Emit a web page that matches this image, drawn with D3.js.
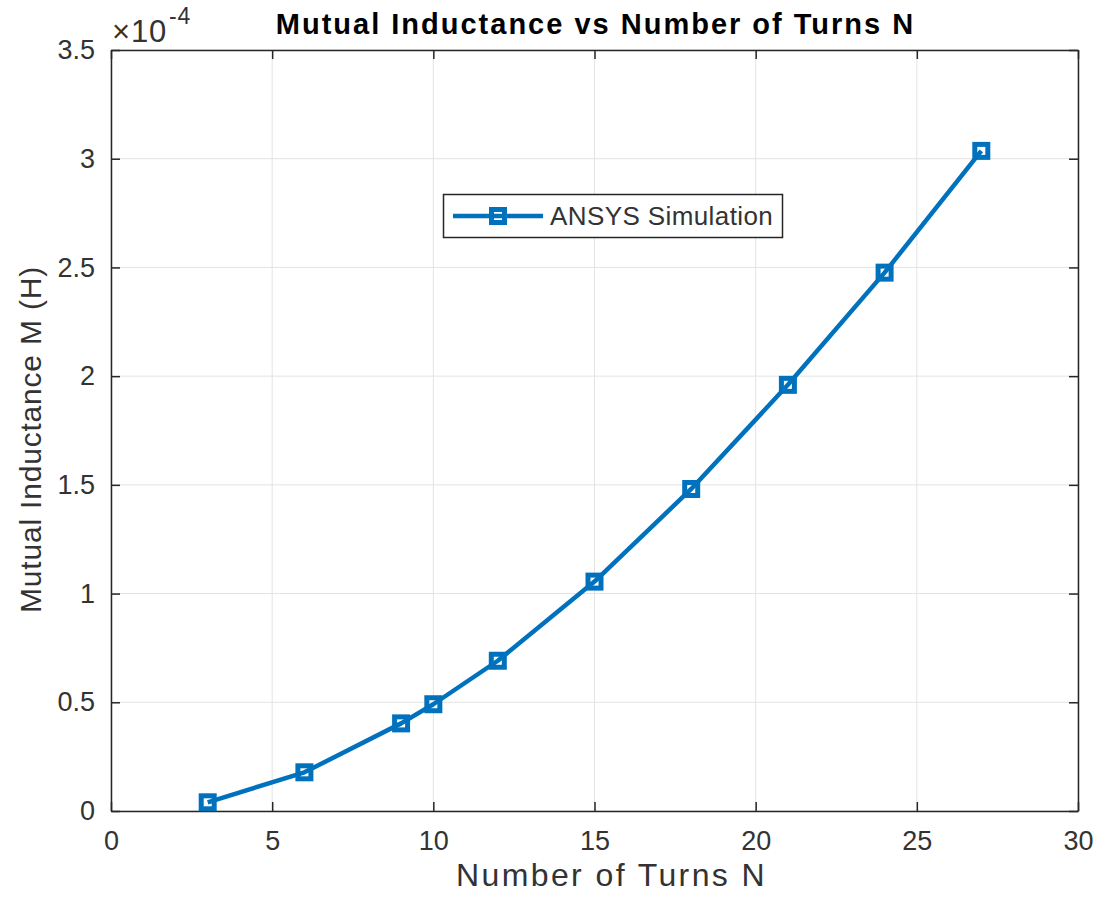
<!DOCTYPE html>
<html><head><meta charset="utf-8">
<script src="https://cdn.jsdelivr.net/npm/d3@7"></script>
<style>
body{margin:0;background:#fff;}
text{font-family:"Liberation Sans",Arial,Helvetica,sans-serif;}
</style></head>
<body><svg id="c" width="1099" height="903"></svg>
<script>
const turns = [3, 6, 9, 10, 12, 15, 18, 21, 24, 27];
const inductance = [0.040, 0.178, 0.403, 0.491, 0.691, 1.055, 1.481, 1.960, 2.476, 3.036]; // ×1e-4 H
const xTicks = [0, 5, 10, 15, 20, 25, 30];
const yTicks = [0, 0.5, 1, 1.5, 2, 2.5, 3, 3.5];
const seriesName = "ANSYS Simulation";

const svg = d3.select("#c");
const L = 111, R = 1078, T = 50, B = 811;
const x = d3.scaleLinear().domain([0, 30]).range([L, R]);
const y = d3.scaleLinear().domain([0, 3.5]).range([B, T]);
const blue = "#0072BD", axisCol = "#262626", gridCol = "#e3e3e3", textCol = "#333333";

// grid
svg.append("g").selectAll("line").data(xTicks).join("line")
  .attr("x1", d => x(d)).attr("x2", d => x(d)).attr("y1", T).attr("y2", B)
  .attr("stroke", gridCol).attr("stroke-width", 1);
svg.append("g").selectAll("line").data(yTicks).join("line")
  .attr("y1", d => y(d)).attr("y2", d => y(d)).attr("x1", L).attr("x2", R)
  .attr("stroke", gridCol).attr("stroke-width", 1);

// axes
const tl = 9;
const fmt = d => d3.format("")(d);
const ax = (gen, tr) => svg.append("g").attr("transform", tr).call(gen)
  .call(g => { g.select(".domain").attr("stroke", axisCol).attr("stroke-width", 1.5);
               g.selectAll(".tick line").attr("stroke", axisCol).attr("stroke-width", 1.5);
               g.selectAll(".tick text").attr("fill", textCol).style("font-size", "27px"); });
ax(d3.axisBottom(x).tickValues(xTicks).tickFormat(fmt).tickSizeInner(-tl).tickSizeOuter(0).tickPadding(20), `translate(0,${B})`);
ax(d3.axisTop(x).tickValues(xTicks).tickFormat("").tickSizeInner(-tl).tickSizeOuter(0), `translate(0,${T})`);
ax(d3.axisLeft(y).tickValues(yTicks).tickFormat(fmt).tickSizeInner(-tl).tickSizeOuter(0).tickPadding(16), `translate(${L},0)`);
ax(d3.axisRight(y).tickValues(yTicks).tickFormat("").tickSizeInner(-tl).tickSizeOuter(0), `translate(${R},0)`);

// line
const line = d3.line().x((d, i) => x(turns[i])).y(d => y(d));
svg.append("path").datum(inductance).attr("d", line)
  .attr("fill", "none").attr("stroke", blue).attr("stroke-width", 4.5).attr("stroke-linejoin", "round");
const ms = 13;
svg.append("g").selectAll("rect").data(inductance).join("rect")
  .attr("x", (d, i) => x(turns[i]) - ms / 2).attr("y", d => y(d) - ms / 2)
  .attr("width", ms).attr("height", ms)
  .attr("fill", "none").attr("stroke", blue).attr("stroke-width", 5);

// exponent
const ex = svg.append("text").attr("x", 112).attr("y", 42).attr("fill", textCol).style("font-size", "31px").style("letter-spacing", "0.8px");
ex.append("tspan").text("\u00d710");
ex.append("tspan").attr("dy", -18).attr("dx", 2).style("font-size", "23px").text("-4");

// title & labels
svg.append("text").attr("x", (L + R) / 2 + 1).attr("y", 34).attr("text-anchor", "middle")
  .attr("fill", "#000").style("font-size", "29px").style("font-weight", "bold").style("letter-spacing", "2px")
  .text("Mutual Inductance vs Number of Turns N");
svg.append("text").attr("x", (L + R) / 2 + 17).attr("y", 886).attr("text-anchor", "middle")
  .attr("fill", textCol).style("font-size", "32px").style("letter-spacing", "2.4px").text("Number of Turns N");
svg.append("text").attr("transform", `translate(41,${(T + B) / 2 + 9}) rotate(-90)`).attr("text-anchor", "middle")
  .attr("fill", textCol).style("font-size", "30px").style("letter-spacing", "0.8px").text("Mutual Inductance M (H)");

// legend
const lg = svg.append("g");
lg.append("rect").attr("x", 443.5).attr("y", 194.5).attr("width", 339).attr("height", 43)
  .attr("fill", "#fff").attr("stroke", axisCol).attr("stroke-width", 1.5);
lg.append("line").attr("x1", 453).attr("x2", 543).attr("y1", 216).attr("y2", 216)
  .attr("stroke", blue).attr("stroke-width", 4.5);
lg.append("rect").attr("x", 498 - ms / 2).attr("y", 216 - ms / 2).attr("width", ms).attr("height", ms)
  .attr("fill", "none").attr("stroke", blue).attr("stroke-width", 5);
lg.append("text").attr("x", 550).attr("y", 225).attr("fill", textCol).style("font-size", "26px").style("letter-spacing", "0.4px").text(seriesName);
</script></body></html>
